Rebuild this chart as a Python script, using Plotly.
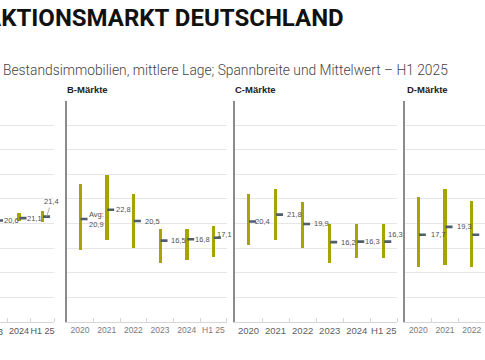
import plotly.graph_objects as go

# ---------------- data ----------------
years = ["2020", "2021", "2022", "2023", "2024", "H1 25"]

a_min = [None, None, None, None, 20.6, 20.4]
a_max = [None, None, None, None, 22.1, 22.6]
a_avg = [None, None, None, 20.6, 21.1, 21.4]

b_min = [14.6, 16.7, 15.0, 12.1, 12.7, 13.2]
b_max = [28.2, 30.0, 26.1, 19.0, 19.0, 19.6]
b_avg = [20.9, 22.8, 20.5, 16.5, 16.8, 17.1]

c_min = [15.6, 16.6, 15.1, 12.1, 13.0, 13.0]
c_max = [26.0, 27.0, 24.4, 20.0, 20.0, 20.0]
c_avg = [20.4, 21.8, 19.9, 16.2, 16.3, 16.3]

d_min = [11.1, 11.7, 11.1, None, None, None]
d_max = [25.5, 27.0, 24.6, None, None, None]
d_avg = [17.7, 19.3, 17.7, None, None, None]

panel_titles = ["", "B-Märkte", "C-Märkte", "D-Märkte"]
title_text = "TRANSAKTIONSMARKT DEUTSCHLAND"
subtitle_text = "Bestandsimmobilien, mittlere Lage; Spannbreite und Mittelwert – H1 2025"

# ---------------- style / layout ----------------
W, H = 485, 360
BAR_C = "#a6a400"
AVG_C = "#4f5d69"
LBL_C = "#505050"
GRID_C = "#e6e6e6"
FONT = "Liberation Sans, Arial, sans-serif"

y_bot_px, y_top_px = 321.7, 100.7
ydom = [1 - y_bot_px / H, 1 - y_top_px / H]

panels = [
    dict(dom=(0, 54.3), rng=(5.5 - 54.3 / 23.5, 5.5), mn=a_min, mx=a_max, av=a_avg,
         tfs=9, tfc="#555555", yline=False,
         dx=[0, 0, 0, 7.5, 7.5, None], dy=[0, 0, 0, 0, 0, 0]),
    dict(dom=(66.7, 226.7), rng=(-0.5, 5.5), mn=b_min, mx=b_max, av=b_avg,
         tfs=8.5, tfc="#7a7a7a", yline=True,
         dx=[8, 9, 10.7, 10.7, 7.6, 3.4], dy=[0, 0, 0, 0, 0, 3.5]),
    dict(dom=(235, 397.3), rng=(-0.5, 5.5), mn=c_min, mx=c_max, av=c_avg,
         tfs=9.5, tfc="#606060", yline=True,
         dx=[5.7, 10.7, 11, 10.6, 7.8, 3.7], dy=[0, 0, 0, 0, 0, 7.5]),
    dict(dom=(405, 485), rng=(-0.5, -0.5 + 80 / 26.7), mn=d_min, mx=d_max, av=d_avg,
         tfs=8.5, tfc="#7a7a7a", yline=True,
         dx=[11.7, 11.7, 12.3, 0, 0, 0], dy=[0, 0, 0, 0, 0, 0]),
]

pos = list(range(len(years)))


def fmt(v):
    return f"{v:.1f}".replace(".", ",")


def inside(v, rng):
    return rng[0] - 1e-9 <= v <= rng[1] + 1e-9


fig = go.Figure()
annotations = []

for i, p in enumerate(panels):
    k = "" if i == 0 else str(i + 1)
    xa, ya = "x" + k, "y" + k
    dom_px = p["dom"][1] - p["dom"][0]
    catw = dom_px / (p["rng"][1] - p["rng"][0])

    # range bars
    bx, by, bb = [], [], []
    for j in pos:
        if p["mn"][j] is not None and p["mx"][j] is not None:
            bx.append(j)
            by.append(p["mx"][j] - p["mn"][j])
            bb.append(p["mn"][j])
    fig.add_trace(go.Bar(x=bx, y=by, base=bb, width=3.3 / catw,
                         marker=dict(color=BAR_C, line=dict(width=0)),
                         xaxis=xa, yaxis=ya, hoverinfo="skip"))

    # average markers
    mx_, my_ = [], []
    for j in pos:
        if p["av"][j] is not None:
            mx_.append(j + 4 / catw)
            my_.append(p["av"][j])
    fig.add_trace(go.Scatter(x=mx_, y=my_, mode="markers",
                             marker=dict(symbol="line-ew", size=5,
                                         line=dict(width=2.6, color=AVG_C)),
                             xaxis=xa, yaxis=ya, hoverinfo="skip"))

    # value labels
    for j in pos:
        v = p["av"][j]
        if v is None:
            continue
        if inside(j, p["rng"]):
            lx, base_shift = j, 0.0
        elif inside(j + 0.5, p["rng"]):
            lx, base_shift = j + 0.5, -catw / 2
        else:
            continue
        txt = fmt(v)
        if i == 1 and j == 0:
            txt = "Avg:<br>" + txt
        if p["dx"][j] is None:
            annotations.append(dict(x=j + 4 / catw, y=v, xref=xa, yref=ya, text=txt,
                                    showarrow=True, arrowhead=0, arrowwidth=0.8,
                                    arrowcolor="#9a9a9a", ax=5, ay=-15, standoff=0,
                                    font=dict(family=FONT, size=7.5, color=LBL_C)))
            continue
        annotations.append(dict(x=lx, y=v, xref=xa, yref=ya, text=txt, showarrow=False,
                                xanchor="left", yanchor="middle",
                                xshift=p["dx"][j] + base_shift - 1.5, yshift=p["dy"][j],
                                align="left",
                                font=dict(family=FONT, size=7.5, color=LBL_C)))

    bounds = [b + 0.5 for b in range(-1, len(years))
              if p["rng"][0] + 0.01 < b + 0.5 <= p["rng"][1] + 1e-9]
    fig.layout["xaxis" + k] = dict(
        domain=[p["dom"][0] / W, p["dom"][1] / W], range=list(p["rng"]), anchor=ya,
        tickmode="array", tickvals=pos, ticktext=years, ticks="", tickangle=0,
        tickfont=dict(family=FONT, size=p["tfs"], color=p["tfc"]),
        showgrid=False, zeroline=False, showline=True, linecolor="#d6d6d6", linewidth=1,
        minor=dict(tickmode="array", tickvals=bounds, ticks="inside", ticklen=4,
                   tickcolor="#d6d6d6", tickwidth=1, showgrid=False),
        fixedrange=True)
    fig.layout["yaxis" + k] = dict(
        domain=ydom, range=[0, 45], anchor=xa, dtick=5, tick0=0,
        showticklabels=False, ticks="", showgrid=True, gridcolor=GRID_C, gridwidth=1,
        zeroline=False, showline=p["yline"], linecolor="#8c8c8c", linewidth=1.6,
        fixedrange=True)

# the partly visible "2023" tick label of the first panel
annotations.append(dict(x=3.5, y=0, xref="x", yref="y", text=years[3], showarrow=False,
                        xanchor="center", yanchor="top", xshift=-23.5 / 2 - 3, yshift=-3,
                        font=dict(family=FONT, size=9, color="#555555")))

# panel titles
for i, t in enumerate(panel_titles):
    if not t:
        continue
    x0 = [0, 65, 233, 405][i]
    annotations.append(dict(x=x0 / W, y=1 - 89.5 / H, xref="paper", yref="paper", text=t,
                            showarrow=False, xanchor="left", yanchor="middle",
                            font=dict(family=FONT, size=9.5, color="#222222", weight="bold")))

# main title (cropped at the left) and subtitle
annotations.append(dict(x=346 / W, y=1 - 18 / H, xref="paper", yref="paper", text=title_text,
                        showarrow=False, xanchor="right", yanchor="middle",
                        font=dict(family="Roboto", size=24, color="#111111", weight="bold")))
annotations.append(dict(x=1 / W, y=1 - 69.5 / H, xref="paper", yref="paper", text=subtitle_text,
                        showarrow=False, xanchor="left", yanchor="middle",
                        font=dict(family="Roboto", size=13.8, color="#444444", weight=300)))

fig.update_layout(width=W, height=H, margin=dict(l=0, r=0, t=0, b=0),
                  paper_bgcolor="white", plot_bgcolor="white", showlegend=False,
                  bargap=0, annotations=annotations)

fig.write_html("out.html", config={"displayModeBar": False},
               post_script="document.body.style.margin='0';document.body.style.overflow='hidden';")
